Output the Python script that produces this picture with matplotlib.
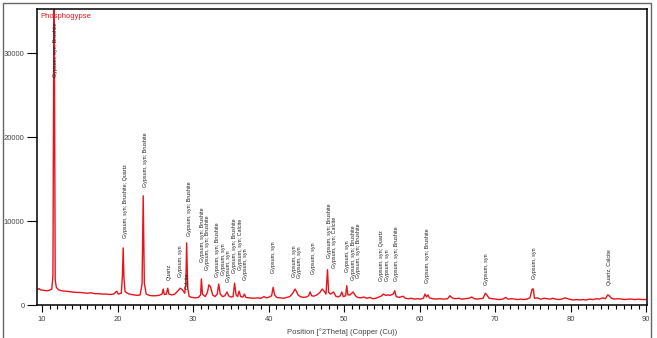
import matplotlib
matplotlib.use('Agg')
import matplotlib.pyplot as plt
from matplotlib.patches import Rectangle
from matplotlib.ticker import MultipleLocator

# scan: 2theta and counts
two_theta = [9.4, 9.6, 9.8, 10.2, 10.6, 11.0, 11.3, 11.45, 11.6, 11.75, 11.9, 12.2, 12.6,
             13.0, 13.5, 14.0, 14.5, 15.0, 15.5, 16.0, 16.5, 17.0, 17.5, 18.0, 18.5, 19.0,
             19.5, 19.9, 20.1, 20.5, 20.65, 20.75, 20.85, 21.0, 21.4, 21.8, 22.2, 22.6, 23.0,
             23.25, 23.4, 23.55, 23.8, 24.2, 24.6, 25.0, 25.5, 25.9, 26.05, 26.2, 26.45, 26.65,
             26.8, 27.2, 27.6, 28.0, 28.3, 28.6, 28.9, 29.05, 29.15, 29.3, 29.5, 29.9, 30.3,
             30.7, 31.0, 31.1, 31.25, 31.6, 31.9, 32.1, 32.3, 32.6, 32.9, 33.2, 33.4, 33.6,
             33.9, 34.2, 34.5, 34.7, 35.0, 35.3, 35.5, 35.7, 35.9, 36.1, 36.3, 36.6, 36.8,
             37.0, 37.5, 38.0, 38.5, 39.0, 39.4, 39.7, 40.1, 40.4, 40.6, 40.8, 41.1, 41.5,
             42.0, 42.4, 42.8, 43.2, 43.5, 43.7, 43.9, 44.2, 44.6, 45.0, 45.3, 45.5, 45.7,
             46.0, 46.4, 46.8, 47.1, 47.4, 47.6, 47.8, 47.95, 48.2, 48.6, 48.9, 49.2, 49.5,
             49.7, 49.9, 50.2, 50.35, 50.5, 50.8, 51.0, 51.2, 51.5, 51.8, 52.2, 52.6, 53.0,
             53.4, 53.8, 54.2, 54.6, 54.9, 55.2, 55.5, 55.8, 56.1, 56.5, 56.7, 56.9, 57.3,
             57.8, 58.1, 58.5, 58.9, 59.3, 59.7, 60.1, 60.5, 60.7, 60.9, 61.1, 61.3, 61.7,
             62.2, 62.7, 63.2, 63.7, 64.0, 64.3, 64.7, 65.2, 65.6, 66.0, 66.5, 66.9, 67.2,
             67.6, 68.0, 68.4, 68.7, 68.9, 69.2, 69.6, 70.0, 70.5, 71.0, 71.4, 71.7, 72.2,
             72.6, 73.0, 73.4, 73.8, 74.2, 74.6, 74.9, 75.05, 75.2, 75.6, 76.0, 76.5, 76.9,
             77.3, 77.6, 78.0, 78.4, 78.8, 79.3, 79.6, 80.0, 80.4, 80.8, 81.2, 81.6, 82.0,
             82.5, 83.0, 83.4, 83.8, 84.2, 84.6, 84.9, 85.1, 85.4, 85.8, 86.3, 86.8, 87.2,
             87.6, 88.0, 88.5, 89.0, 89.4, 89.9]
counts = [1850, 1950, 1800, 1750, 1700, 1750, 1900, 3500, 42000, 3000, 2100, 1800, 1700,
          1650, 1600, 1550, 1500, 1500, 1450, 1400, 1450, 1350, 1350, 1300, 1300, 1250,
          1300, 1650, 1300, 1400, 3500, 6800, 3200, 1600, 1350, 1250, 1200, 1150, 1200,
          2500, 13000, 2600, 1300, 1150, 1100, 1100, 1150, 1300, 1900, 1250, 1300, 2000,
          1300, 1200, 1300, 1700, 2000, 1800, 1400, 2500, 7400, 2000, 1000, 900, 850,
          900, 1200, 3100, 1300, 1000, 1500, 2400, 2200, 1200, 1000, 1300, 2500, 1300,
          1000, 1100, 1550, 1100, 950, 1000, 2600, 1200, 1000, 1650, 1000, 950, 1300,
          900, 850, 800, 850, 800, 1000, 850, 950, 1100, 2100, 1200, 900, 850,
          800, 900, 1000, 1400, 1900, 1600, 1200, 1000, 900, 950, 1100, 1550, 1100,
          1050, 1200, 1500, 1900, 1600, 1300, 4200, 1500, 1300, 1550, 1050, 950, 1100,
          1550, 1000, 1100, 2300, 1200, 1200, 1400, 1550, 1100, 900, 850, 950, 800,
          900, 750, 800, 950, 1050, 1300, 1150, 1200, 1150, 1300, 1700, 1000, 900,
          1050, 800, 750, 800, 700, 750, 700, 800, 1300, 950, 1200, 850, 750,
          700, 750, 700, 750, 1100, 850, 750, 800, 700, 750, 800, 950, 750,
          700, 750, 800, 1400, 1200, 800, 750, 700, 650, 700, 900, 700, 750,
          700, 650, 700, 650, 700, 850, 1900, 1900, 800, 850, 700, 800, 750,
          700, 800, 700, 650, 700, 850, 750, 650, 600, 650, 600, 650, 600,
          700, 650, 750, 700, 850, 750, 1200, 1100, 800, 700, 750, 700, 650,
          700, 700, 650, 700, 650, 650]

# phase labels: position, text, height of text foot
label_pos = [11.85, 21.0, 23.65, 26.8, 28.4, 29.2, 29.5, 31.2, 31.95, 33.25, 34.0, 34.75,
             35.5, 36.25, 37.0, 40.7, 43.4, 44.15, 45.9, 48.0, 48.75, 50.45, 51.2, 51.95,
             55.0, 55.75, 56.9, 61.1, 68.9, 75.2, 85.2]
label_text = ['Gypsum, syn; Brushite', 'Gypsum, syn; Brushite; Quartz', 'Gypsum, syn; Brushite',
              'Quartz', 'Gypsum, syn', 'Calcite', 'Gypsum, syn; Brushite',
              'Gypsum, syn; Brushite', 'Gypsum, syn; Brushite', 'Gypsum, syn; Brushite',
              'Gypsum, syn', 'Gypsum, syn', 'Gypsum, syn; Brushite', 'Gypsum, syn; Calcite',
              'Gypsum, syn', 'Gypsum, syn', 'Gypsum, syn', 'Gypsum, syn', 'Gypsum, syn',
              'Gypsum, syn; Brushite', 'Gypsum, syn; Calcite', 'Gypsum, syn',
              'Gypsum, syn; Brushite', 'Gypsum, syn; Brushite', 'Gypsum, syn; Quartz',
              'Gypsum, syn', 'Gypsum, syn; Brushite', 'Gypsum, syn; Brushite', 'Gypsum, syn',
              'Gypsum, syn', 'Quartz, Calcite']
label_base = [27200, 7980, 14050, 2980, 3330, 1900, 8200, 5100, 4150, 3330, 3570, 2740,
              3800, 4170, 2980, 3800, 3330, 3200, 3690, 5600, 4400, 3930, 2980, 3200,
              2860, 2860, 2860, 2620, 2380, 3100, 2380]

x_ticks = [10, 20, 30, 40, 50, 60, 70, 80, 90]
y_ticks = [0, 10000, 20000, 30000]

fig = plt.figure(figsize=(6.57, 3.38), dpi=100)
ax = fig.add_axes([37 / 657, 1 - 305 / 338, 610 / 657, 296 / 338])

ax.plot(two_theta, counts, color='#e8141b', linewidth=1.0)

for x, t, b in zip(label_pos, label_text, label_base):
    ax.text(x, b, t, rotation=90, ha='center', va='bottom', fontsize=3.9,
            family='Liberation Sans', color='#222222')

ax.text(0.005, 0.985, 'Phosphogypse', transform=ax.transAxes, color='#e8141b',
        fontsize=5.5, family='Liberation Sans', ha='left', va='top')

ax.set_xlim(9.34, 90.1)
ax.set_ylim(0, 35240)
ax.set_xticks(x_ticks)
ax.set_yticks(y_ticks)
ax.xaxis.set_minor_locator(MultipleLocator(1))
ax.tick_params(axis='x', which='major', length=5, width=0.8, pad=3,
               labelsize=5.5, labelcolor='#444444')
ax.tick_params(axis='x', which='minor', length=3, width=0.8)
ax.tick_params(axis='y', which='major', length=7, width=0.8, pad=2,
               labelsize=5.5, labelcolor='#444444')
for lab in ax.get_xticklabels() + ax.get_yticklabels():
    lab.set_family('Liberation Sans')
for s in ax.spines.values():
    s.set_linewidth(1.1)
ax.set_xlabel('Position [°2Theta] (Copper (Cu))', fontsize=5.5,
              family='Liberation Sans', color='#444444', labelpad=4)

# outer frame around the whole picture
fig.patches.append(Rectangle((3 / 657, -0.05), 648 / 657, 1.04, transform=fig.transFigure,
                             fill=False, edgecolor='#666666', linewidth=1.0))

fig.savefig('out.png', dpi=100)
